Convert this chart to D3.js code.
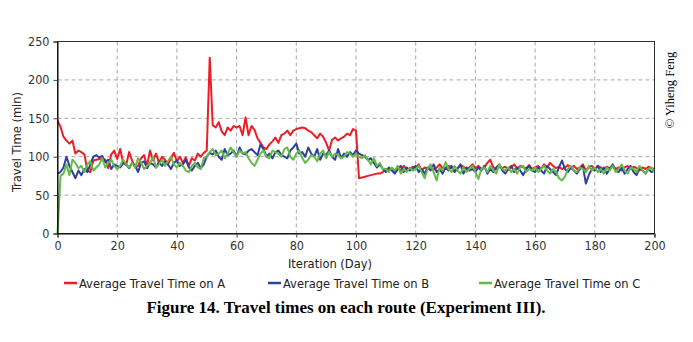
<!DOCTYPE html>
<html><head><meta charset="utf-8">
<script src="https://cdn.jsdelivr.net/npm/d3@7"></script>
<style>body{margin:0;background:#fff}svg{display:block}</style>
</head><body><svg id="c" width="693" height="342"></svg>
<script>
const days = d3.range(0, 201);
const seriesA = [147,139,126,121,117,121,104,108,106,103,
82,80,95,96,97,98,96,85,103,108,
97,110,92,89,106,95,86,88,98,102,
88,108,95,104,92,100,96,90,98,105,
94,100,92,99,88,98,95,104,100,105,
108,229,141,138,145,133,128,138,134,140,
138,140,128,151,128,140,135,124,118,112,
110,116,120,125,118,128,130,134,128,134,
136,137,138,137,134,132,128,124,130,126,
118,108,122,125,121,124,126,130,128,136,
134,72,73,74,75,76,77,78,78,80,
84,82,85,80,86,82,88,84,83,87,
85,90,82,86,84,88,83,86,90,85,
84,88,86,82,85,89,87,84,86,90,
85,88,84,86,92,96,86,84,88,85,
87,83,86,90,84,88,86,85,89,84,
86,88,84,90,86,92,88,85,87,84,
86,89,85,88,84,86,90,82,86,88,
84,88,86,83,87,85,88,84,86,82,
86,88,84,87,85,82,86,84,87,85,
84];
const seriesB = [78,80,86,100,88,80,72,82,76,84,
80,90,100,102,99,101,93,96,84,90,
88,86,92,90,85,92,88,80,92,94,
85,92,90,86,93,88,94,90,84,92,
95,88,90,96,86,82,88,92,85,90,
100,105,103,108,100,96,110,102,104,108,
100,112,104,103,108,110,106,102,116,110,
100,104,98,106,108,102,100,98,108,112,
117,104,106,100,112,104,100,110,96,104,
102,108,100,96,110,98,104,100,106,102,
108,104,102,100,96,98,92,86,90,84,
80,86,82,78,84,88,80,86,82,84,
88,80,84,78,86,82,90,80,84,78,
86,82,88,80,84,90,78,86,82,84,
80,86,82,88,78,84,80,86,90,82,
78,84,88,80,86,82,76,84,88,82,
80,86,82,78,88,84,80,76,86,95,
84,80,86,82,78,84,88,65,76,84,
82,88,80,86,78,84,90,82,80,86,
78,84,88,80,76,86,82,78,84,80,
82];
const seriesC = [0,75,78,90,76,96,92,85,88,80,
90,94,82,86,90,98,86,92,96,88,
84,88,96,90,86,92,86,98,92,84,
88,92,100,86,90,96,88,94,100,90,
86,92,88,82,80,88,92,86,84,98,
100,106,110,102,104,108,98,104,112,106,
100,108,104,106,98,92,88,96,104,108,
100,98,108,106,104,100,110,112,100,96,
104,108,98,92,96,102,100,94,104,108,
98,106,100,104,102,98,100,106,104,100,
104,100,98,102,96,90,98,88,92,84,
84,80,86,82,88,78,84,80,86,82,
84,88,80,72,84,90,80,69,86,82,
93,84,80,88,82,78,86,80,84,88,
80,71,84,86,80,88,82,78,90,84,
82,86,80,84,78,86,88,80,84,82,
86,80,84,88,82,78,84,80,72,69,
74,84,88,82,80,86,84,80,88,82,
86,80,84,78,86,82,88,80,84,90,
82,78,86,84,80,88,82,78,84,86,
80];
const seriesNames = ["Average Travel Time on A","Average Travel Time on B","Average Travel Time on C"];
const colors = ["#ee1c25","#2e3f9e","#62bb46"];
const xTicks = [0,20,40,60,80,100,120,140,160,180,200];
const yTicks = [0,50,100,150,200,250];
const xTitle = "Iteration (Day)";
const yTitle = "Travel Time (min)";
const caption = "Figure 14. Travel times on each route (Experiment III).";
const credit = "\u00A9 Yiheng Feng";

const svg = d3.select("#c");
const L = 57.5, R = 654.5, T = 41.5, B = 233.5;
const x = d3.scaleLinear().domain([0,200]).range([L,R]);
const y = d3.scaleLinear().domain([0,250]).range([B,T]);
const axFont = "'DejaVu Sans Condensed','DejaVu Sans',sans-serif";

// grid
const g = svg.append("g");
g.selectAll("line.gx").data(xTicks.slice(1,-1)).join("line")
  .attr("x1",d=>x(d)).attr("x2",d=>x(d)).attr("y1",T).attr("y2",B)
  .attr("stroke","#a8a8a8").attr("stroke-dasharray","4,3");
g.selectAll("line.gy").data(yTicks.slice(1,-1)).join("line")
  .attr("y1",d=>y(d)).attr("y2",d=>y(d)).attr("x1",L).attr("x2",R)
  .attr("stroke","#a8a8a8").attr("stroke-dasharray","4,3");

// series
const line = d3.line().x((d,i)=>x(days[i])).y(d=>y(d));
[seriesA,seriesB,seriesC].forEach((s,k)=>{
  svg.append("path").datum(s).attr("d",line).attr("fill","none")
    .attr("stroke",colors[k]).attr("stroke-width",2).attr("stroke-linejoin","round");
});

// frame
svg.append("rect").attr("x",L).attr("y",T).attr("width",R-L).attr("height",B-T)
  .attr("fill","none").attr("stroke","#333").attr("stroke-width",1);

// axes
const xa = svg.append("g").attr("transform",`translate(0,${B})`)
  .call(d3.axisBottom(x).tickValues(xTicks).tickSize(4).tickPadding(4));
const ya = svg.append("g").attr("transform",`translate(${L},0)`)
  .call(d3.axisLeft(y).tickValues(yTicks).tickSize(4).tickPadding(4));
[xa,ya].forEach(a=>{
  a.select(".domain").attr("stroke","#000");
  a.selectAll(".tick line").attr("stroke","#444");
  a.selectAll("text").attr("font-family",axFont).attr("font-size",12.5).attr("fill","#333");
});

svg.append("text").attr("x",330).attr("y",268).attr("text-anchor","middle")
  .attr("font-family",axFont).attr("font-size",12.8).attr("fill","#222").text(xTitle);
svg.append("text").attr("transform","translate(21,142) rotate(-90)").attr("text-anchor","middle")
  .attr("font-family",axFont).attr("font-size",12.8).attr("fill","#222").text(yTitle);

// legend
const legX = [64,268,479];
seriesNames.forEach((n,k)=>{
  svg.append("line").attr("x1",legX[k]).attr("x2",legX[k]+13).attr("y1",283).attr("y2",283)
    .attr("stroke",colors[k]).attr("stroke-width",2.5);
  svg.append("text").attr("x",legX[k]+15).attr("y",287.5).attr("font-family",axFont)
    .attr("font-size",12.8).attr("fill","#222").text(n);
});

svg.append("text").attr("x",346).attr("y",313).attr("text-anchor","middle")
  .attr("font-family","'Liberation Serif','Times New Roman',serif").attr("font-weight","bold")
  .attr("font-size",17).attr("fill","#000").text(caption);
svg.append("text").attr("transform","translate(674,90) rotate(-90)").attr("text-anchor","middle")
  .attr("font-family","'Liberation Serif','Times New Roman',serif")
  .attr("font-size",12.5).attr("fill","#000").text(credit);
</script></body></html>
